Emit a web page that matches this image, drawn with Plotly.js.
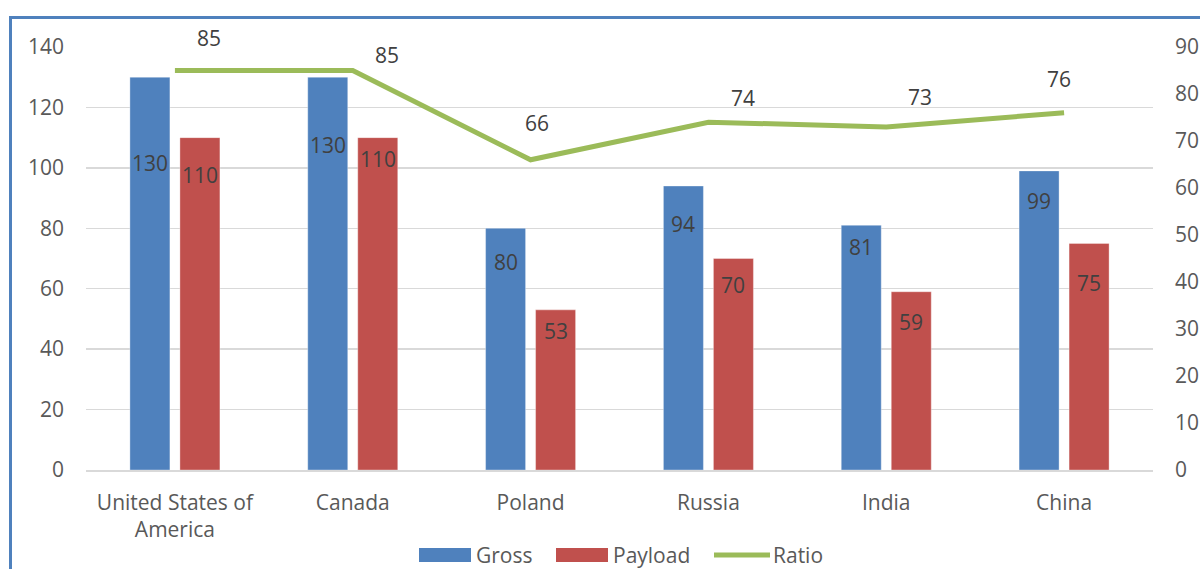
<!DOCTYPE html>
<html>
<head>
<meta charset="utf-8">
<script src="https://cdn.plot.ly/plotly-3.0.1.min.js"></script>
<style>
  html, body { margin: 0; padding: 0; background: #ffffff; overflow: hidden; }
  #wrap { position: relative; width: 1200px; height: 569px; }
  #frame { position: absolute; left: 9px; top: 16px; width: 1300px; height: 700px;
           border-top: 3px solid #4f81bd; border-left: 3px solid #4f81bd; box-sizing: border-box; }
  #chart { position: absolute; left: 0; top: 0; width: 1200px; height: 569px; }
</style>
</head>
<body>
<div id="wrap">
  <div id="frame"></div>
  <div id="chart"></div>
</div>
<script>
// Countries and the three series
const categories = ["United States of<br>America", "Canada", "Poland", "Russia", "India", "China"];
const gross = [130, 130, 80, 94, 81, 99];
const payload = [110, 110, 53, 70, 59, 75];
const ratio = [85, 85, 66, 74, 73, 76];

// Series colours
const BLUE = "#4f81bd", RED = "#c0504d", GREEN = "#9bbb59";
const FONT = "Open Sans, Noto Sans, sans-serif";
const FS = 21;
const LABEL_COLOR = "#404040", TICK_COLOR = "#595959";

// Plot-area geometry in pixels
const W = 1200, H = 569;
const M = { l: 86, r: 47, t: 47, b: 99 };
const PW = W - M.l - M.r, PH = H - M.t - M.b;
const px2paperX = px => (px - M.l) / PW;
const px2paperY = py => (H - M.b - py) / PH;

// Pixel nudges for the data labels (downward from bar top / upward-right of the line point)
const grossLabelDrop = [86, 68, 34, 38, 22, 30];
const payloadLabelDrop = [37, 21, 21, 26, 30, 40];
const ratioLabelShift = [[34, 33], [34, 16], [6, 37], [35, 24], [34, 30], [-5, 34]];

const barLine = { color: "rgba(255,255,255,0.35)", width: 1 };

const traces = [
  { type: "bar", name: "Gross", x: categories, y: gross, marker: { color: BLUE, line: barLine },
    hoverinfo: "skip" },
  { type: "bar", name: "Payload", x: categories, y: payload, marker: { color: RED, line: barLine },
    hoverinfo: "skip" },
  { type: "scatter", mode: "lines", name: "Ratio", x: categories, y: ratio, yaxis: "y2",
    line: { color: GREEN, width: 5 }, hoverinfo: "skip" }
];

const annotations = [];
categories.forEach((c, i) => {
  annotations.push({ x: c, xref: "x", y: gross[i], yref: "y", text: String(gross[i]),
    showarrow: false, xshift: -25, yshift: -grossLabelDrop[i], xanchor: "center", yanchor: "middle",
    font: { family: FONT, size: FS, color: LABEL_COLOR } });
  annotations.push({ x: c, xref: "x", y: payload[i], yref: "y", text: String(payload[i]),
    showarrow: false, xshift: 25, yshift: -payloadLabelDrop[i], xanchor: "center", yanchor: "middle",
    font: { family: FONT, size: FS, color: LABEL_COLOR } });
  annotations.push({ x: c, xref: "x", y: ratio[i], yref: "y2", text: String(ratio[i]),
    showarrow: false, xshift: ratioLabelShift[i][0], yshift: ratioLabelShift[i][1],
    xanchor: "center", yanchor: "middle",
    font: { family: FONT, size: FS, color: LABEL_COLOR } });
});

// Custom legend along the bottom
const legendItems = [
  { name: "Gross", kind: "box", color: BLUE, x0: 419, x1: 471, tx: 474 },
  { name: "Payload", kind: "box", color: RED, x0: 556, x1: 608, tx: 611 },
  { name: "Ratio", kind: "line", color: GREEN, x0: 714, x1: 770, tx: 771 }
];
const LEG_Y = 555;
const shapes = [];
legendItems.forEach(it => {
  if (it.kind === "box") {
    shapes.push({ type: "rect", xref: "paper", yref: "paper",
      x0: px2paperX(it.x0), x1: px2paperX(it.x1), y0: px2paperY(LEG_Y + 7), y1: px2paperY(LEG_Y - 7),
      fillcolor: it.color, line: { width: 0 } });
  } else {
    shapes.push({ type: "line", xref: "paper", yref: "paper",
      x0: px2paperX(it.x0), x1: px2paperX(it.x1), y0: px2paperY(LEG_Y), y1: px2paperY(LEG_Y),
      line: { color: it.color, width: 5 } });
  }
  annotations.push({ xref: "paper", yref: "paper", x: px2paperX(it.tx), y: px2paperY(LEG_Y),
    text: it.name, showarrow: false, xanchor: "left", yanchor: "middle",
    font: { family: FONT, size: FS, color: TICK_COLOR } });
});

const layout = {
  width: W, height: H,
  margin: M,
  paper_bgcolor: "rgba(0,0,0,0)",
  plot_bgcolor: "rgba(0,0,0,0)",
  barmode: "group",
  bargap: 0.4376,
  bargroupgap: 0.2,
  showlegend: false,
  font: { family: FONT, size: FS, color: TICK_COLOR },
  xaxis: {
    type: "category", showgrid: false, zeroline: false,
    showline: true, linecolor: "#d9d9d9", linewidth: 1.5,
    ticks: "", ticklabelstandoff: 13,
    tickfont: { family: FONT, size: FS, color: TICK_COLOR }
  },
  yaxis: {
    range: [0, 140], dtick: 20, showgrid: true, gridcolor: "#d9d9d9", gridwidth: 1.5,
    zeroline: false, showline: false, ticks: "", ticklabelstandoff: 21,
    tickfont: { family: FONT, size: FS, color: TICK_COLOR }
  },
  yaxis2: {
    range: [0, 90], dtick: 10, overlaying: "y", side: "right", showgrid: false,
    zeroline: false, showline: false, ticks: "", ticklabelstandoff: 21,
    tickfont: { family: FONT, size: FS, color: TICK_COLOR }
  },
  annotations: annotations,
  shapes: shapes
};

Plotly.newPlot("chart", traces, layout, { staticPlot: true, displayModeBar: false });
</script>
</body>
</html>
